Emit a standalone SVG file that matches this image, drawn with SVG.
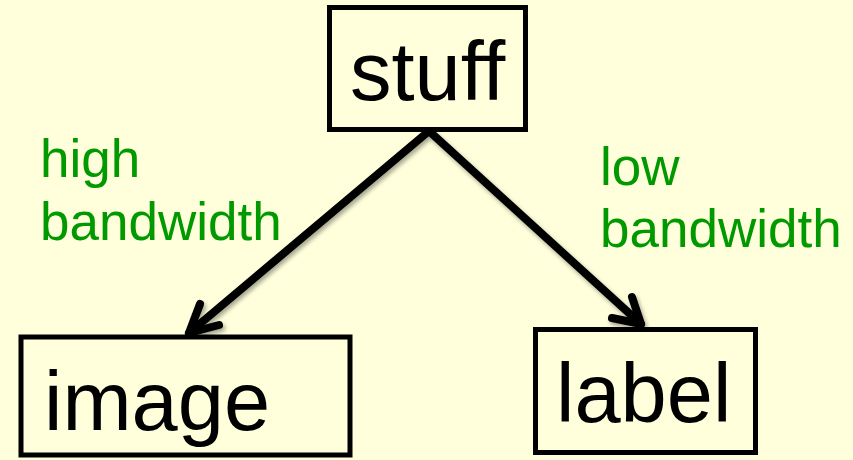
<svg xmlns="http://www.w3.org/2000/svg" width="853" height="460" viewBox="0 0 853 460">
<defs>
<style>
.box{fill:#FFFFDC;stroke:#000;stroke-width:5}
.nt{font-family:"Liberation Sans",Arial,sans-serif;font-size:83px;fill:#000}
.lbl{font-family:"Liberation Sans",Arial,sans-serif;font-size:53px;fill:#009900}
.edge{fill:none;stroke:#000;stroke-width:8;stroke-linecap:round;stroke-linejoin:round}
</style>
<filter id="sh" x="-20%" y="-20%" width="140%" height="140%">
<feGaussianBlur in="SourceAlpha" stdDeviation="2"/>
<feOffset dx="2" dy="3" result="b"/>
<feComponentTransfer><feFuncA type="linear" slope="0.35"/></feComponentTransfer>
<feMerge><feMergeNode/><feMergeNode in="SourceGraphic"/></feMerge>
</filter>
</defs>
<rect width="853" height="460" fill="#FFFFDC"/>
<g id="connectors" filter="url(#sh)">
<path class="edge" d="M429,131 L189,333"/>
<path class="edge" d="M200,304 L189,333 L219,325"/>
<path class="edge" d="M429,131 L641,324"/>
<path class="edge" d="M632,297 L641,324 L612,318"/>
</g>
<g id="stuff">
<rect class="box" x="329.5" y="7.5" width="196" height="122"/>
<text class="nt" x="350" y="100">stuff</text>
</g>
<g id="image">
<rect class="box" x="21" y="337" width="329" height="118"/>
<text class="nt" x="44" y="430">image</text>
</g>
<g id="label">
<rect class="box" x="535.5" y="329.5" width="220" height="123"/>
<text class="nt" x="556" y="422">label</text>
</g>
<g id="labels">
<text class="lbl" x="40" y="177">high</text>
<text class="lbl" x="40" y="240">bandwidth</text>
<text class="lbl" x="600" y="185">low</text>
<text class="lbl" x="600" y="247">bandwidth</text>
</g>
</svg>
